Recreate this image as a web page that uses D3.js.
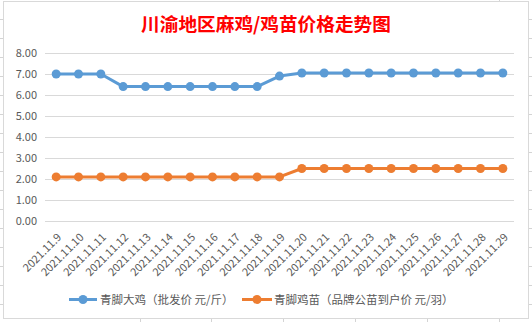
<!DOCTYPE html>
<html><head><meta charset="utf-8">
<script src="https://cdn.jsdelivr.net/npm/d3@7/dist/d3.min.js"></script>
<style>body{margin:0;background:#fff}svg{display:block}</style>
</head><body>
<svg id="c" width="532" height="322"></svg>
<script>
const title = "川渝地区麻鸡/鸡苗价格走势图";
const dates = ["2021.11.9","2021.11.10","2021.11.11","2021.11.12","2021.11.13","2021.11.14","2021.11.15","2021.11.16","2021.11.17","2021.11.18","2021.11.19","2021.11.20","2021.11.21","2021.11.22","2021.11.23","2021.11.24","2021.11.25","2021.11.26","2021.11.27","2021.11.28","2021.11.29"];
const seriesNames = ["青脚大鸡（批发价 元/斤）","青脚鸡苗（品牌公苗到户价 元/羽）"];
const broiler = [7.0,7.0,7.0,6.4,6.4,6.4,6.4,6.4,6.4,6.4,6.9,7.05,7.05,7.05,7.05,7.05,7.05,7.05,7.05,7.05,7.05];
const chick = [2.1,2.1,2.1,2.1,2.1,2.1,2.1,2.1,2.1,2.1,2.1,2.5,2.5,2.5,2.5,2.5,2.5,2.5,2.5,2.5,2.5];
const yTicks = [0,1,2,3,4,5,6,7,8];
const colors = ["#5B9BD5","#ED7D31"];

const svg = d3.select("#c");
const font = "'Noto Sans CJK SC','Microsoft YaHei',sans-serif";

// spreadsheet background grid (outside chart frame)
const bg = svg.append("g").attr("stroke","#d4d4d4").attr("stroke-width",1);
[19.5,38.5,57.5,76.5,95.5,114.5,133.5,152.5,171.5,190.5,209.5,228.5,247.5,266.5,285.5,304.5].forEach(y=>{
  bg.append("line").attr("x1",0).attr("x2",3).attr("y1",y).attr("y2",y);
  bg.append("line").attr("x1",529).attr("x2",532).attr("y1",y).attr("y2",y);
});
[140.5,211.5,283.5,355.5,427.5,499.5].forEach(x=>{
  bg.append("line").attr("x1",x).attr("x2",x).attr("y1",319).attr("y2",322);
});
bg.append("line").attr("x1",499.5).attr("x2",499.5).attr("y1",0).attr("y2",1);

// chart frame
svg.append("rect").attr("x",3.5).attr("y",1.5).attr("width",525).attr("height",317)
  .attr("fill","#fff").attr("stroke","#d9d9d9");

const x = d3.scaleBand().domain(dates).range([45,514]).padding(0);
const cx = d => x(d) + x.bandwidth()/2;
const y = d3.scaleLinear().domain([0,8]).range([221,53]);

// gridlines
svg.append("g").selectAll("line").data(yTicks).join("line")
  .attr("x1",45).attr("x2",514)
  .attr("y1",d=>Math.round(y(d))+0.5).attr("y2",d=>Math.round(y(d))+0.5)
  .attr("stroke","#d9d9d9").attr("stroke-width",1);

// y labels
svg.append("g").selectAll("text").data(yTicks).join("text")
  .attr("x",37).attr("y",d=>y(d)).attr("dy","0.36em")
  .attr("text-anchor","end").attr("font-family",font).attr("font-size",11)
  .attr("fill","#595959").text(d=>d.toFixed(2));

// x labels
svg.append("g").selectAll("text").data(dates).join("text")
  .attr("transform",d=>`translate(${cx(d)+6},${238}) rotate(-45)`)
  .attr("text-anchor","end").attr("font-family",font).attr("font-size",11)
  .attr("fill","#595959").text(d=>d);

// title
svg.append("text").attr("x",266).attr("y",31).attr("text-anchor","middle")
  .attr("font-family",font).attr("font-size",18.67).attr("font-weight","bold")
  .attr("fill","#ff0000").text(title);

// series
const line = d3.line().x((d,i)=>cx(dates[i])).y(d=>y(d));
[broiler,chick].forEach((s,k)=>{
  svg.append("path").datum(s).attr("d",line).attr("fill","none")
    .attr("stroke",colors[k]).attr("stroke-width",3).attr("stroke-linejoin","round");
  svg.append("g").selectAll("circle").data(s).join("circle")
    .attr("cx",(d,i)=>cx(dates[i])).attr("cy",d=>y(d)).attr("r",4.5)
    .attr("fill",colors[k]);
});

// legend
const lg = [{x0:69,x1:97,tx:100},{x0:242,x1:272,tx:274}];
lg.forEach((p,k)=>{
  svg.append("line").attr("x1",p.x0).attr("x2",p.x1).attr("y1",299.5).attr("y2",299.5)
    .attr("stroke",colors[k]).attr("stroke-width",3);
  svg.append("circle").attr("cx",(p.x0+p.x1)/2).attr("cy",299.5).attr("r",4.5).attr("fill",colors[k]);
  svg.append("text").attr("x",p.tx).attr("y",299.5).attr("dy","0.36em")
    .attr("font-family",font).attr("font-size",11.5).attr("fill","#595959").text(seriesNames[k]);
});
</script>
</body></html>
